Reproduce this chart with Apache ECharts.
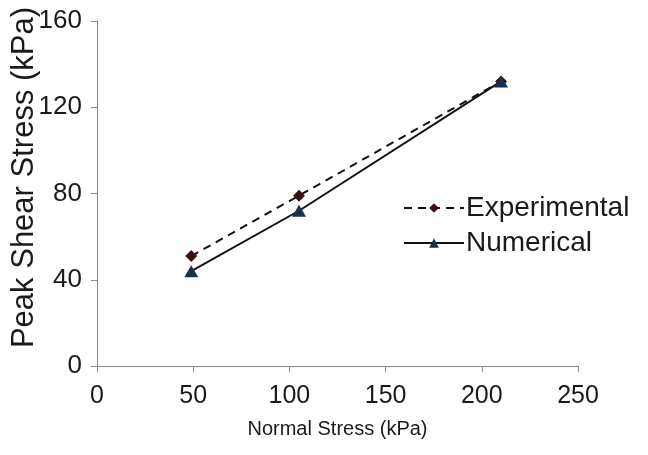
<!DOCTYPE html>
<html><head><meta charset="utf-8">
<script src="https://cdn.jsdelivr.net/npm/echarts@6/dist/echarts.min.js"></script>
<style>html,body{margin:0;padding:0;background:#fff}#c{width:648px;height:455px}</style>
</head><body><div id="c"></div>
<script>
const normalStress = [49, 105, 210];
const experimental = [51, 79, 132];
const numerical = [44, 72, 132];
const xTicks = [0, 50, 100, 150, 200, 250];
const yTicks = [0, 40, 80, 120, 160];

const chart = echarts.init(document.getElementById('c'), null, {renderer: 'canvas'});
const font = 'Liberation Sans, Arial, sans-serif';
chart.setOption({
  animation: false,
  backgroundColor: '#fff',
  grid: {left: 97, right: 70, top: 21, bottom: 89, containLabel: false, outerBoundsMode: 'none'},
  xAxis: {
    type: 'value', min: xTicks[0], max: xTicks[xTicks.length-1], interval: 50,
    name: 'Normal Stress (kPa)', nameLocation: 'middle', nameGap: 53, nameMoveOverlap: false,
    nameTextStyle: {fontFamily: font, fontSize: 20, color: '#1a1a1a'},
    axisLine: {show: true, lineStyle: {color: '#8a8a8a', width: 1}},
    axisTick: {show: true, length: 6, lineStyle: {color: '#8a8a8a'}},
    axisLabel: {fontFamily: font, fontSize: 25, color: '#1a1a1a', margin: 18},
    splitLine: {show: false}
  },
  yAxis: {
    type: 'value', min: yTicks[0], max: yTicks[yTicks.length-1], interval: 40,
    name: 'Peak Shear Stress (kPa)', nameLocation: 'middle', nameGap: 57, nameRotate: 90, nameMoveOverlap: false,
    nameTextStyle: {fontFamily: font, fontSize: 31, color: '#1a1a1a', padding: [0, 0, 0, 32]},
    axisLine: {show: true, lineStyle: {color: '#8a8a8a', width: 1}},
    axisTick: {show: true, length: 6, lineStyle: {color: '#8a8a8a'}},
    axisLabel: {fontFamily: font, fontSize: 26, color: '#1a1a1a', margin: 15},
    splitLine: {show: false}
  },
  legend: {
    orient: 'vertical', left: 403, top: 194, itemGap: 7,
    itemWidth: 60, itemHeight: 12, padding: 0,
    textStyle: {fontFamily: font, fontSize: 28, color: '#1a1a1a', padding: [0, 0, 0, -3]},
    data: ['Experimental', 'Numerical']
  },
  series: [
    {
      name: 'Experimental', type: 'line',
      data: normalStress.map((x, i) => [x, experimental[i]]),
      symbol: 'diamond', symbolSize: 12,
      itemStyle: {color: '#3b0f14'},
      lineStyle: {color: '#111', width: 2, type: [8, 6]},
      z: 2
    },
    {
      name: 'Numerical', type: 'line',
      data: normalStress.map((x, i) => [x, numerical[i]]),
      symbol: 'triangle', symbolSize: [14, 12],
      itemStyle: {color: '#1a2f4a'},
      lineStyle: {color: '#111', width: 2, type: 'solid'},
      z: 3
    }
  ]
});
</script></body></html>
